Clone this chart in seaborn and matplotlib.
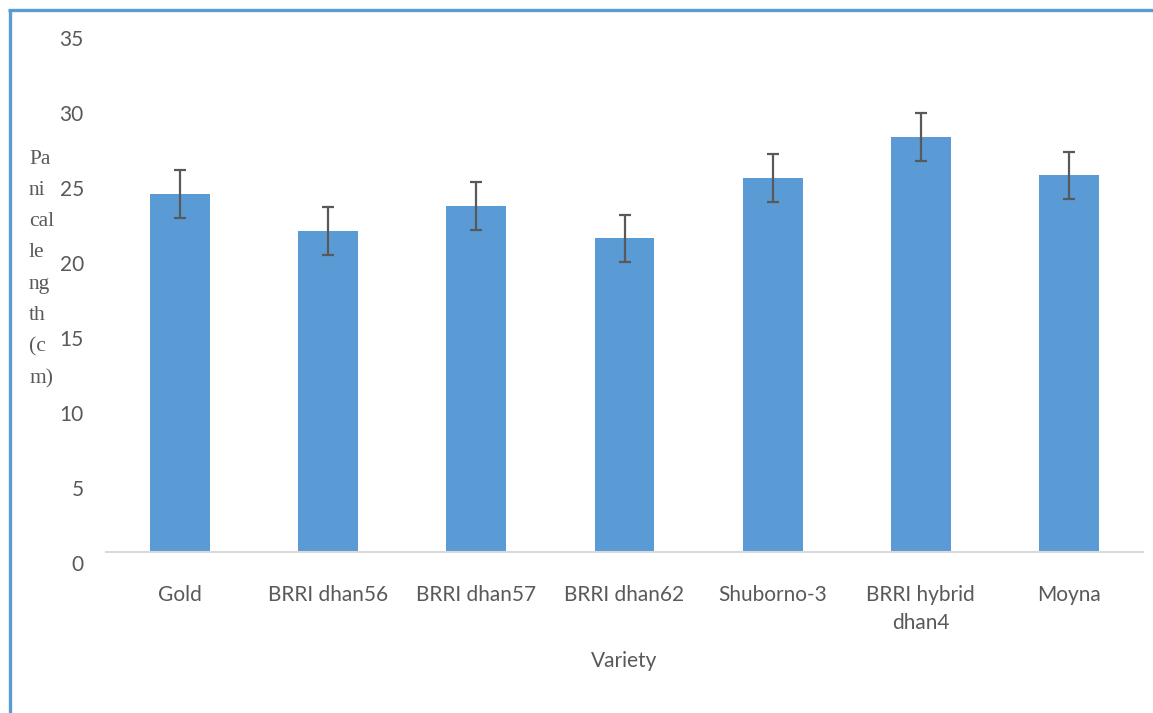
import matplotlib
matplotlib.use("Agg")
import matplotlib.pyplot as plt
import matplotlib.transforms as mtransforms
from matplotlib.lines import Line2D
import pandas as pd
import seaborn as sns

varieties = ["Gold", "BRRI dhan56", "BRRI dhan57", "BRRI dhan62",
             "Shuborno-3", "BRRI hybrid\ndhan4", "Moyna"]
panicle_length = [23.87, 21.4, 23.07, 20.93, 24.93, 27.67, 25.13]
error = [1.59, 1.57, 1.57, 1.57, 1.59, 1.57, 1.57]
y_ticks = [0, 5, 10, 15, 20, 25, 30, 35]

BAR = "#5B9BD5"
TXT = "#595959"

df = pd.DataFrame({"variety": varieties, "length": panicle_length})

sns.set_style("white")
plt.rcParams["font.family"] = ["Lato", "DejaVu Sans"]

fig = plt.figure(figsize=(11.53, 7.13), dpi=100)
ax = fig.add_axes([106 / 1153, 1 - 552 / 713, (1143 - 106) / 1153, 525 / 713])

sns.barplot(data=df, x="variety", y="length", color=BAR, width=0.405,
            saturation=1, linewidth=0, ax=ax)
ax.errorbar(range(len(varieties)), panicle_length, yerr=error, fmt="none",
            ecolor=TXT, elinewidth=1.6, capsize=4.3, capthick=1.6)

ax.set_ylim(0, 35)
ax.set_xlim(-0.5, len(varieties) - 0.5)
ax.set_yticks(y_ticks)
ax.set_yticklabels([str(t) for t in y_ticks], fontsize=15, color=TXT)
ax.tick_params(axis="y", length=0, pad=16)
ax.tick_params(axis="x", length=0, pad=24, labelsize=15, labelcolor=TXT)
for lab in ax.get_xticklabels():
    lab.set_linespacing(1.45)

# excel puts the value labels slightly below their gridline
offset = mtransforms.ScaledTranslation(0, -11 / 100, fig.dpi_scale_trans)
for lab in ax.get_yticklabels():
    lab.set_transform(lab.get_transform() + offset)

for s in ["top", "right", "left"]:
    ax.spines[s].set_visible(False)
ax.spines["bottom"].set_color("#D9D9D9")
ax.spines["bottom"].set_linewidth(1.5)

ax.set_ylabel("")
ax.set_xlabel("Variety", fontsize=15, color=TXT, labelpad=13)

fig.text(29 / 1153, 1 - 269 / 713, "Pa\nni\ncal\nle\nng\nth\n(c\nm)",
         family=["Liberation Serif"], fontsize=15.5, color=TXT,
         ha="left", va="center", linespacing=1.87)

# blue frame around the chart (only left and top visible)
fig.add_artist(Line2D([9.5 / 1153, 9.5 / 1153], [0, 1 - 10 / 713],
                      transform=fig.transFigure, color=BAR, linewidth=2.4,
                      solid_capstyle="butt"))
fig.add_artist(Line2D([8.3 / 1153, 1], [1 - 10 / 713, 1 - 10 / 713],
                      transform=fig.transFigure, color=BAR, linewidth=2.4,
                      solid_capstyle="butt"))

fig.savefig("out.png", dpi=100)
